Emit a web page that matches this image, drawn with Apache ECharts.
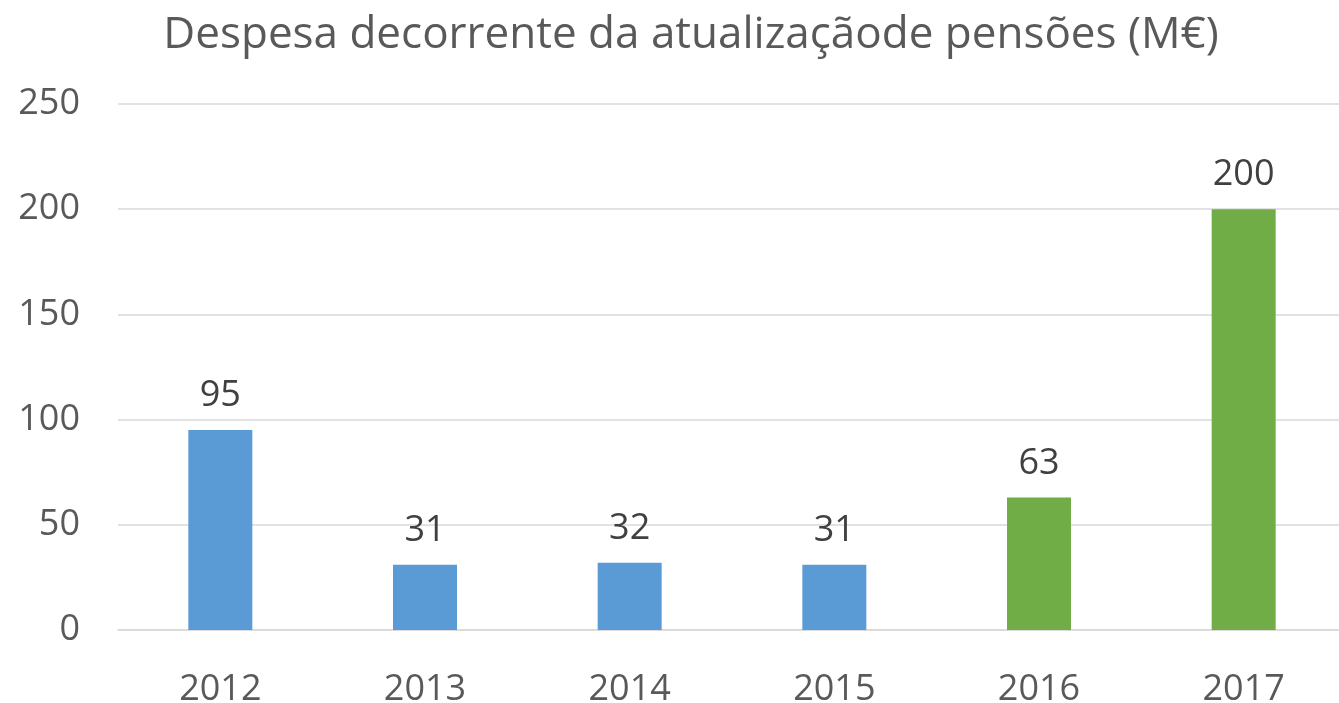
<!DOCTYPE html>
<html>
<head>
<meta charset="utf-8">
<script src="https://cdn.jsdelivr.net/npm/echarts@6/dist/echarts.min.js"></script>
<style>
  html, body { margin: 0; padding: 0; background: #fff; }
  #chart { width: 1339px; height: 703px; }
</style>
</head>
<body>
<div id="chart"></div>
<script>
// data
var years = ['2012', '2013', '2014', '2015', '2016', '2017'];
var values = [95, 31, 32, 31, 63, 200];
var barColors = ['#5B9BD5', '#5B9BD5', '#5B9BD5', '#5B9BD5', '#70AD47', '#70AD47'];

var font = '"Open Sans", sans-serif';
var chart = echarts.init(document.getElementById('chart'));

var option = {
  animation: false,
  textStyle: { fontFamily: font },
  title: {
    text: 'Despesa decorrente da atualizaçãode pensões (M€)',
    left: 686,
    textAlign: 'center',
    top: 8,
    textStyle: { fontFamily: font, fontSize: 44, fontWeight: 'normal', color: '#595959' }
  },
  grid: { left: 118, width: 1228, top: 104, height: 526, outerBoundsMode: 'none', containLabel: false },
  xAxis: {
    type: 'category',
    data: years,
    axisLine: { lineStyle: { color: '#D9D9D9', width: 1.5 } },
    axisTick: { show: false },
    axisLabel: { color: '#595959', fontSize: 36, margin: 42 }
  },
  yAxis: {
    type: 'value',
    min: 0,
    max: 250,
    interval: 50,
    axisLine: { show: false },
    axisTick: { show: false },
    splitLine: { lineStyle: { color: '#D9D9D9', width: 1.5 } },
    axisLabel: { color: '#595959', fontSize: 36, margin: 38 }
  },
  series: [{
    type: 'bar',
    barWidth: 64,
    data: values.map(function (v, i) {
      return { value: v, itemStyle: { color: barColors[i] } };
    }),
    label: {
      show: true,
      position: 'top',
      distance: 16,
      color: '#404040',
      fontSize: 36
    }
  }]
};

chart.setOption(option);
</script>
</body>
</html>
